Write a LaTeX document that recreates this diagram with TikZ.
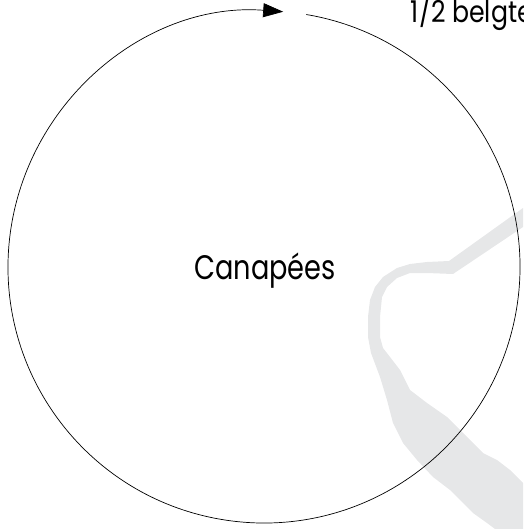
\documentclass[tikz,border=0pt]{standalone}
\usepackage{fontspec}
\setmainfont{Poppins}
\usetikzlibrary{calc}
\usetikzlibrary{arrows.meta}

\definecolor{bandgray}{HTML}{E6E7E8}

\begin{document}
\begin{tikzpicture}[x=1pt, y=-1pt]
    \useasboundingbox (0, 0) rectangle (523, 529);
    \clip (0, 0) rectangle (523, 529);

    \coordinate (c) at (264, 267);

    % grey band behind the ring
    \fill [bandgray] (523, 208) -- (449, 261) -- (427, 262) -- (410, 264)
        -- (397, 268) -- (383, 277) -- (375, 287) -- (370, 300) -- (368, 317)
        -- (368, 337) -- (371, 353) -- (380, 377) -- (387, 400) -- (393, 423)
        -- (403, 443) -- (417, 460) -- (433, 477) -- (450, 490) -- (460, 500)
        -- (473, 513) -- (487, 523) -- (495, 529) -- (523, 529) -- (523, 483)
        -- (520, 480) -- (510, 470) -- (497, 460) -- (483, 453) -- (463, 433)
        -- (447, 417) -- (427, 403) -- (410, 390) -- (400, 370) -- (390, 357)
        -- (383, 348) -- (380, 337) -- (380, 317) -- (382, 297) -- (387, 287)
        -- (397, 278) -- (410, 273) -- (427, 273) -- (453, 274) -- (523, 227)
        -- cycle;

    \draw [line width=0.7pt, -{Triangle[length=20pt, width=14pt]}]
        ($(c) + (-80.5:256)$) arc [start angle=-80.5, end angle=274.3, radius=256];

    \node [anchor=base, xscale=0.8, font=\fontsize{34}{38}\selectfont] (canape) at (265, 279) {Canapées};
    \node [anchor=base west, xscale=0.84, font=\fontsize{30}{34}\selectfont] (half) at (408, 23) {1/2 belgte};
\end{tikzpicture}
\end{document}
